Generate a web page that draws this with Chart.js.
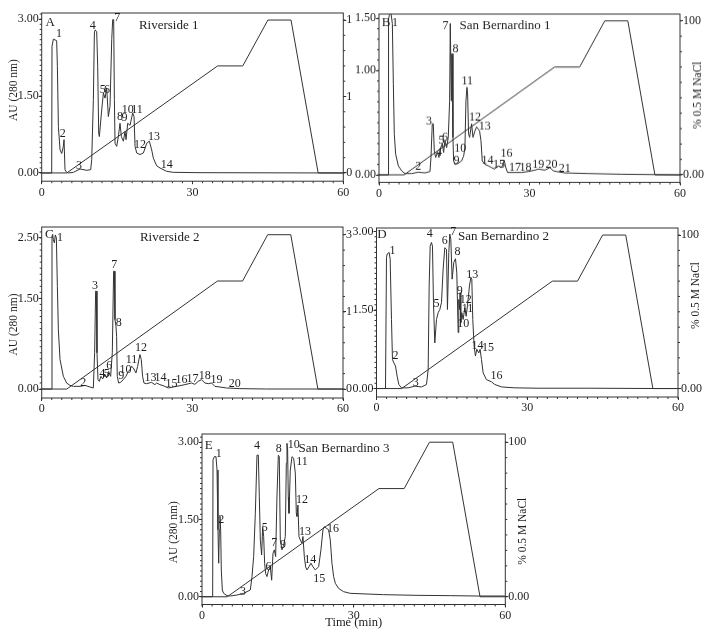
<!DOCTYPE html>
<html>
<head>
<meta charset="utf-8">
<script src="https://cdn.jsdelivr.net/npm/chart.js@4.4.1/dist/chart.umd.min.js"></script>
<style>
  body { margin: 0; width: 714px; height: 637px; background: #fff; position: relative; overflow: hidden; }
  .panel { position: absolute; background: #fff; }
</style>
</head>
<body>
<div class="panel" id="pA"><canvas></canvas></div>
<div class="panel" id="pB"><canvas></canvas></div>
<div class="panel" id="pC"><canvas></canvas></div>
<div class="panel" id="pD"><canvas></canvas></div>
<div class="panel" id="pE"><canvas></canvas></div>
<script>
// salt gradient, % 0.5 M NaCl (same programme for every run)
const gradTime = [0, 5, 35, 40, 45, 49.6, 55, 60];
const gradPct = [0, 0, 70, 70, 100, 100, 0, 0];
const timeTicks = [0, 30, 60];

// A - Riverside 1
const timeA = [0, 1.99, 2.05, 2.32, 2.98, 3.12, 3.32, 3.65, 3.98, 4.31, 4.44, 4.64, 4.97, 5.31, 6.3, 7.63, 8.95, 9.75, 9.95, 10.28, 10.48, 10.61, 10.94, 11.14, 11.34, 11.47, 11.94, 12.27, 12.6, 12.93, 13.26, 13.59, 13.93, 14.12, 14.32, 14.46, 14.59, 14.92, 15.25, 15.58, 15.85, 16.25, 16.58, 16.78, 17.11, 17.57, 18.1, 18.37, 18.57, 18.9, 19.56, 20.23, 20.89, 21.42, 21.88, 22.21, 22.88, 23.54, 24.87, 26.19, 31.5, 60];
const auA = [0, 0, 2.47, 2.61, 2.58, 2.08, 0.91, 0.45, 0.38, 0.52, 0.65, 0.06, 0.013, 0, 0.013, 0.078, 0.052, 0.065, 0.26, 1.43, 2.73, 2.79, 2.76, 2.08, 0.78, 0.71, 1.23, 1.56, 1.46, 1.66, 1.1, 1.3, 2.6, 2.99, 2.99, 1.43, 0.58, 0.52, 0.71, 0.97, 0.71, 0.62, 0.81, 0.65, 0.97, 0.93, 1.17, 1.1, 0.52, 0.39, 0.36, 0.39, 0.58, 0.62, 0.45, 0.29, 0.14, 0.097, 0.032, 0.013, 0.006, 0];
const peakA = ['1', '2', '3', '4', '5', '6', '7', '8', '9', '10', '11', '12', '13', '14'];
const peakTimeA = [3.45, 4.18, 7.43, 10.15, 12.14, 13.0, 15.05, 15.58, 16.45, 17.1, 18.95, 19.56, 22.35, 24.87];
const peakAuA = [2.71, 0.76, 0.13, 2.87, 1.62, 1.62, 3.02, 1.1, 1.07, 1.23, 1.23, 0.55, 0.71, 0.16];
const leftTicksA = [0, 1.5, 3];

// B - San Bernardino 1
const timeB = [0, 1.86, 1.9, 2.06, 2.39, 2.66, 2.86, 3.05, 3.32, 3.85, 4.52, 5.18, 6.51, 7.84, 9.16, 10.16, 10.36, 10.62, 10.82, 11.02, 11.29, 11.69, 11.95, 12.22, 12.62, 12.88, 13.15, 13.48, 13.81, 14.08, 14.21, 14.34, 14.41, 14.48, 14.61, 14.74, 14.87, 15.14, 15.8, 16.47, 16.87, 17.13, 17.33, 17.53, 17.66, 17.86, 18.06, 18.46, 18.73, 19.12, 19.46, 19.79, 20.05, 20.32, 20.58, 21.12, 21.78, 22.44, 23.11, 23.77, 24.44, 24.97, 25.23, 25.63, 27.09, 28.42, 29.75, 31.08, 31.74, 33.07, 34.06, 34.73, 35.39, 37.05, 41.7, 48.3, 60];
const auB = [0, 0, 1.49, 1.53, 1.55, 1.45, 0.87, 0.39, 0.2, 0.087, 0.039, 0.013, 0.013, 0.026, 0.019, 0.032, 0.167, 0.49, 0.49, 0.23, 0.167, 0.215, 0.167, 0.25, 0.3, 0.215, 0.33, 0.26, 0.36, 0.71, 1.45, 1.45, 0.71, 1.16, 1.16, 0.36, 0.135, 0.1, 0.11, 0.135, 0.18, 0.26, 0.71, 0.84, 0.78, 0.39, 0.36, 0.49, 0.36, 0.42, 0.46, 0.44, 0.42, 0.33, 0.135, 0.1, 0.087, 0.07, 0.055, 0.087, 0.07, 0.14, 0.077, 0.023, 0.023, 0.023, 0.032, 0.045, 0.055, 0.045, 0.07, 0.039, 0.032, 0.019, 0.013, 0.006, 0];
const peakB = ['1', '2', '3', '4', '5', '6', '7', '8', '9', '10', '11', '12', '13', '14', '15', '16', '17', '18', '19', '20', '21'];
const peakTimeB = [3.19, 7.84, 9.96, 11.95, 12.45, 13.15, 13.28, 15.27, 15.47, 16.2, 17.6, 19.12, 21.1, 21.65, 23.9, 25.43, 27.1, 29.2, 31.74, 34.4, 37.05];
const peakAuB = [1.46, 0.077, 0.51, 0.21, 0.33, 0.36, 1.43, 1.21, 0.14, 0.25, 0.9, 0.55, 0.46, 0.14, 0.1, 0.2, 0.07, 0.07, 0.1, 0.1, 0.064];
const leftTicksB = [0, 1, 1.5];

// C - Riverside 2
const timeC = [0, 1.99, 2.05, 2.19, 2.32, 2.52, 2.72, 2.92, 3.12, 3.32, 3.65, 4.31, 4.97, 5.64, 6.3, 7.63, 8.62, 9.62, 10.28, 10.54, 10.74, 10.88, 11.01, 11.21, 11.47, 11.8, 12.14, 12.6, 12.93, 13.33, 13.73, 14.06, 14.32, 14.46, 14.59, 14.79, 14.92, 15.05, 15.32, 15.72, 16.25, 16.78, 17.24, 17.57, 17.9, 18.24, 18.77, 19.1, 19.56, 19.83, 20.09, 20.36, 20.89, 21.88, 22.55, 22.88, 23.54, 24.2, 25.2, 26.19, 27.52, 28.51, 29.84, 30.5, 31.17, 31.83, 32.49, 33.16, 33.82, 34.48, 36.8, 39.46, 44.76, 60];
const auC = [0, 0, 2.53, 2.56, 2.47, 2.42, 2.55, 2.5, 1.7, 0.98, 0.49, 0.21, 0.099, 0.06, 0.044, 0.044, 0.06, 0.033, 0.017, 0.6, 1.62, 1.62, 0.6, 0.155, 0.127, 0.21, 0.166, 0.24, 0.182, 0.29, 0.21, 0.6, 1.95, 1.95, 1.15, 1.04, 0.87, 0.21, 0.099, 0.11, 0.155, 0.21, 0.29, 0.32, 0.375, 0.35, 0.265, 0.375, 0.57, 0.49, 0.21, 0.099, 0.088, 0.11, 0.072, 0.099, 0.072, 0.055, 0.017, 0.033, 0.055, 0.072, 0.099, 0.077, 0.127, 0.155, 0.099, 0.088, 0.099, 0.044, 0.017, 0.006, 0, 0];
const peakC = ['1', '2', '3', '4', '5', '6', '7', '8', '9', '10', '11', '12', '13', '14', '15', '16', '17', '18', '19', '20'];
const peakTimeC = [3.65, 8.29, 10.61, 12.07, 12.93, 13.46, 14.46, 15.32, 15.85, 16.71, 17.9, 19.76, 21.68, 23.67, 25.86, 27.85, 30.04, 32.49, 34.8, 38.46];
const peakAuC = [2.5, 0.1, 1.71, 0.25, 0.25, 0.39, 2.06, 1.1, 0.21, 0.32, 0.49, 0.68, 0.18, 0.18, 0.088, 0.155, 0.166, 0.22, 0.155, 0.088];
const leftTicksC = [0, 1.5, 2.5];

// D - San Bernardino 2
const timeD = [0, 1.79, 1.99, 2.12, 2.52, 2.72, 2.98, 3.18, 3.45, 3.78, 4.11, 4.44, 4.97, 6.3, 7.63, 8.95, 9.95, 10.28, 10.48, 10.68, 10.94, 11.14, 11.34, 11.6, 11.94, 12.27, 12.6, 12.93, 13.26, 13.59, 13.93, 14.12, 14.39, 14.59, 14.79, 15.05, 15.38, 15.72, 15.98, 16.25, 16.38, 16.51, 16.64, 16.78, 16.98, 17.24, 17.57, 17.84, 18.1, 18.5, 18.77, 18.97, 19.16, 19.43, 19.69, 19.96, 20.36, 20.62, 20.89, 21.22, 21.88, 22.88, 23.54, 24.87, 27.52, 32.16, 42.1, 55.4, 60];
const auD = [0, 0, 2.5, 2.57, 2.6, 2.47, 1.32, 0.555, 0.49, 0.43, 0.236, 0.077, 0.013, 0.013, 0.045, 0.03, 0.077, 0.36, 1.96, 2.72, 2.79, 2.72, 1.64, 0.87, 1.32, 1.45, 1.51, 1.64, 2.28, 2.69, 2.66, 1.51, 2.6, 2.95, 2.85, 2.09, 2.41, 2.48, 2.21, 1.07, 1.7, 1.51, 1.83, 1.26, 1.45, 1.32, 1.54, 1.38, 1.58, 1.96, 2.12, 2.09, 1.32, 0.81, 0.62, 0.75, 0.68, 0.75, 0.555, 0.3, 0.17, 0.128, 0.077, 0.03, 0.013, 0.006, 0.006, 0, 0];
const peakD = ['1', '2', '3', '4', '5', '6', '7', '8', '9', '10', '11', '12', '13', '14', '15', '16'];
const peakTimeD = [3.18, 3.78, 7.82, 10.6, 11.94, 13.59, 15.25, 16.11, 16.58, 17.24, 18.1, 17.77, 19.03, 20.09, 22.2, 23.87];
const peakAuD = [2.63, 0.62, 0.11, 2.95, 1.61, 2.82, 2.99, 2.61, 1.86, 1.23, 1.53, 1.7, 2.18, 0.82, 0.78, 0.25];
const leftTicksD = [0, 1.5, 3];

// E - San Bernardino 3
const timeE = [0, 2.11, 2.18, 2.44, 2.77, 2.97, 3.16, 3.3, 3.43, 3.56, 3.69, 3.82, 4.02, 4.28, 4.94, 5.6, 6.92, 8.24, 9.56, 9.89, 10.22, 10.55, 10.88, 11.14, 11.34, 11.54, 11.8, 12.0, 12.2, 12.39, 12.59, 12.85, 13.18, 13.51, 13.78, 14.04, 14.31, 14.57, 14.83, 15.1, 15.29, 15.49, 15.82, 16.15, 16.48, 16.68, 16.81, 16.94, 17.07, 17.21, 17.47, 17.8, 18.13, 18.46, 18.66, 18.79, 18.98, 19.18, 19.45, 19.78, 19.97, 20.24, 20.5, 20.76, 21.16, 21.56, 21.95, 22.41, 23.07, 23.53, 23.93, 24.19, 24.59, 25.05, 25.38, 25.71, 26.04, 26.37, 27.03, 28.02, 29.33, 32.63, 35.93, 42.52, 49.11, 54.38, 60];
const auE = [0, 0, 2.66, 2.72, 2.72, 2.46, 1.3, 0.65, 1.3, 1.56, 1.3, 0.52, 0.13, 0.065, 0.02, 0.013, 0.032, 0.065, 0.13, 0.39, 0.78, 1.62, 2.75, 2.75, 1.94, 1.1, 0.81, 1.36, 1.17, 0.65, 0.45, 0.39, 0.52, 0.58, 0.32, 0.84, 0.91, 0.78, 1.94, 2.75, 2.72, 1.1, 0.91, 1.0, 1.17, 2.59, 2.98, 2.85, 1.94, 1.62, 2.46, 2.72, 2.69, 2.4, 1.62, 1.56, 1.78, 1.17, 1.1, 1.04, 1.17, 0.78, 0.58, 0.52, 0.58, 0.65, 0.58, 0.52, 0.58, 0.91, 1.3, 1.36, 1.33, 1.3, 1.1, 0.65, 0.39, 0.26, 0.16, 0.097, 0.065, 0.052, 0.039, 0.026, 0.02, 0.013, 0.013];
const peakE = ['1', '2', '3', '4', '5', '6', '7', '8', '9', '10', '11', '12', '13', '14', '15', '16'];
const peakTimeE = [3.3, 3.82, 8.1, 10.88, 12.39, 13.18, 14.3, 15.16, 16.0, 18.13, 19.78, 19.78, 20.4, 21.4, 23.2, 25.9];
const peakAuE = [2.77, 1.5, 0.1, 2.93, 1.33, 0.58, 1.05, 2.88, 1.0, 2.95, 2.62, 1.88, 1.26, 0.71, 0.34, 1.31];
const leftTicksE = [0, 1.5, 3];

const INK = '#333';
const TEXT = '#1e1e1e';
const FONT = '"Liberation Serif", "Times New Roman", serif';
const PAD_T = 10;

Chart.defaults.font.family = FONT;
Chart.defaults.font.size = 12;
Chart.defaults.color = TEXT;

function line(ctx, x1, y1, x2, y2) {
  ctx.beginPath();
  ctx.moveTo(x1, y1);
  ctx.lineTo(x2, y2);
  ctx.stroke();
}

function vText(ctx, text, x, y) {
  ctx.save();
  ctx.translate(x, y);
  ctx.rotate(-Math.PI / 2);
  ctx.fillText(text, 0, 0);
  ctx.restore();
}

// frame, minor ticks, peak numbers and panel captions
const panelDecor = {
  id: 'panelDecor',
  afterDatasetsDraw(chart, args, o) {
    const { ctx, chartArea: a, scales } = chart;
    ctx.save();
    ctx.strokeStyle = INK;
    ctx.lineWidth = 1;
    ctx.strokeRect(a.left, a.top, a.right - a.left, a.bottom - a.top);

    for (let i = 0; i <= 30; i++) {
      const x = scales.x.getPixelForValue(i * 2);
      line(ctx, x, a.bottom, x, a.bottom + 2);
    }
    for (let i = 0; i * 0.1 <= scales.y.max; i++) {
      const y = scales.y.getPixelForValue(i * 0.1);
      line(ctx, a.left, y, a.left - 2, y);
    }
    for (let i = 0; i <= 10; i++) {
      const y = scales.y2.getPixelForValue(i * 10);
      line(ctx, a.right, y, a.right + 2, y);
    }

    ctx.fillStyle = TEXT;
    ctx.textAlign = 'center';
    ctx.textBaseline = 'middle';
    ctx.font = '12px ' + FONT;
    o.names.forEach((n, i) => {
      ctx.fillText(n, scales.x.getPixelForValue(o.times[i]), scales.y.getPixelForValue(o.values[i]));
    });

    ctx.font = '13px ' + FONT;
    ctx.fillText(o.letter, a.left + o.letterAt[0], a.top + o.letterAt[1]);
    ctx.fillText(o.title, a.left + o.titleAt[0], a.top + o.titleAt[1]);

    const midY = (a.top + a.bottom) / 2;
    ctx.font = '11.5px ' + FONT;
    if (o.leftTitleDy !== null) vText(ctx, 'AU (280 nm)', a.left - 28, midY + o.leftTitleDy);
    if (o.rightTitleDy !== null) vText(ctx, '% 0.5 M NaCl', a.right + 18, midY + o.rightTitleDy);
    ctx.font = '12.5px ' + FONT;
    if (o.xTitle) ctx.fillText(o.xTitle, (a.left + a.right) / 2, a.bottom + 18);
    ctx.restore();
  }
};

function makePanel(p) {
  const wrap = document.getElementById(p.id);
  const [L, T, R, B] = p.box;
  wrap.style.left = (L - p.padL) + 'px';
  wrap.style.top = (T - PAD_T) + 'px';
  wrap.style.width = (R - L + p.padL + p.padR) + 'px';
  wrap.style.height = (B - T + PAD_T + p.padB) + 'px';

  const tickGrid = { drawOnChartArea: false, drawTicks: true, tickLength: 3, color: INK, lineWidth: 1 };
  new Chart(wrap.querySelector('canvas'), {
    type: 'line',
    data: {
      datasets: [
        {
          data: p.time.map((t, i) => ({ x: t, y: p.au[i] })),
          yAxisID: 'y', borderColor: INK, borderWidth: 1, pointRadius: 0, tension: 0
        },
        {
          data: gradTime.map((t, i) => ({ x: t, y: gradPct[i] })),
          yAxisID: 'y2', borderColor: INK, borderWidth: 1, pointRadius: 0, tension: 0
        }
      ]
    },
    options: {
      responsive: true,
      maintainAspectRatio: false,
      animation: false,
      events: [],
      layout: { padding: { top: PAD_T, left: 0, right: 0, bottom: 0 } },
      plugins: {
        legend: { display: false },
        tooltip: { enabled: false },
        panelDecor: p.decor
      },
      scales: {
        x: {
          type: 'linear', min: 0, max: 60,
          afterBuildTicks: s => { s.ticks = timeTicks.map(v => ({ value: v })); },
          afterFit: s => { s.height = p.padB; },
          ticks: { padding: 1, maxRotation: 0, autoSkip: false },
          grid: tickGrid,
          border: { display: false }
        },
        y: {
          position: 'left', min: p.yRange[0], max: p.yRange[1],
          afterBuildTicks: s => { s.ticks = p.leftTicks.map(v => ({ value: v })); },
          afterFit: s => { s.width = p.padL; },
          ticks: { padding: 0, callback: v => v.toFixed(2) },
          grid: tickGrid,
          border: { display: false }
        },
        y2: {
          position: 'right', min: p.pctRange[0], max: p.pctRange[1],
          afterBuildTicks: s => { s.ticks = p.rightTicks.map(v => ({ value: v })); },
          afterFit: s => { s.width = p.padR; },
          ticks: { padding: 0, callback: v => p.rightLabels[p.rightTicks.indexOf(v)] },
          grid: tickGrid,
          border: { display: false }
        }
      }
    },
    plugins: [panelDecor]
  });
}

makePanel({
  id: 'pA', box: [41.7, 13.3, 343.3, 181.5], padL: 41.7, padR: 40, padB: 28,
  time: timeA, au: auA, yRange: [-0.16, 3.12], pctRange: [-5.4, 104.6],
  leftTicks: leftTicksA, rightTicks: [0, 50, 100], rightLabels: ['0.00', '1.50', '100'],
  decor: { names: peakA, times: peakTimeA, values: peakAuA, letter: 'A', letterAt: [8.5, 10], title: 'Riverside 1', titleAt: [127, 13], leftTitleDy: -7, rightTitleDy: null }
});
makePanel({
  id: 'pC', box: [41.7, 227.3, 343, 398.3], padL: 41.7, padR: 40, padB: 28,
  time: timeC, au: auC, yRange: [-0.149, 2.682], pctRange: [-5.8, 105],
  leftTicks: leftTicksC, rightTicks: [0, 50, 100], rightLabels: ['0.00', '1.50', '3.00'],
  decor: { names: peakC, times: peakTimeC, values: peakAuC, letter: 'C', letterAt: [7.6, 8], title: 'Riverside 2', titleAt: [128, 11], leftTitleDy: 12, rightTitleDy: null }
});
makePanel({
  id: 'pB', box: [379, 14, 680, 181.5], padL: 27, padR: 34, padB: 28,
  time: timeB, au: auB, yRange: [-0.072, 1.541], pctRange: [-4.9, 104.4],
  leftTicks: leftTicksB, rightTicks: [0, 100], rightLabels: ['0.00', '100'],
  decor: { names: peakB, times: peakTimeB, values: peakAuB, letter: 'B', letterAt: [7, 9], title: 'San Bernardino 1', titleAt: [126, 12], leftTitleDy: null, rightTitleDy: -3 }
});
makePanel({
  id: 'pD', box: [376.5, 228, 678, 397], padL: 24.5, padR: 36, padB: 28,
  time: timeD, au: auD, yRange: [-0.162, 3.067], pctRange: [-5.5, 104.6],
  leftTicks: leftTicksD, rightTicks: [0, 100], rightLabels: ['0.00', '100'],
  decor: { names: peakD, times: peakTimeD, values: peakAuD, letter: 'D', letterAt: [5.5, 6.5], title: 'San Bernardino 2', titleAt: [127, 9], leftTitleDy: null, rightTitleDy: -17 }
});
makePanel({
  id: 'pE', box: [201.7, 434, 505, 604.5], padL: 45, padR: 40, padB: 32.5,
  time: timeE, au: auE, yRange: [-0.152, 3.161], pctRange: [-5, 105.3],
  leftTicks: leftTicksE, rightTicks: [0, 100], rightLabels: ['0.00', '100'],
  decor: { names: peakE, times: peakTimeE, values: peakAuE, letter: 'E', letterAt: [6.6, 12], title: 'San Bernardino 3', titleAt: [142, 15], leftTitleDy: 13, rightTitleDy: 12, xTitle: 'Time (min)' }
});
</script>
</body>
</html>
